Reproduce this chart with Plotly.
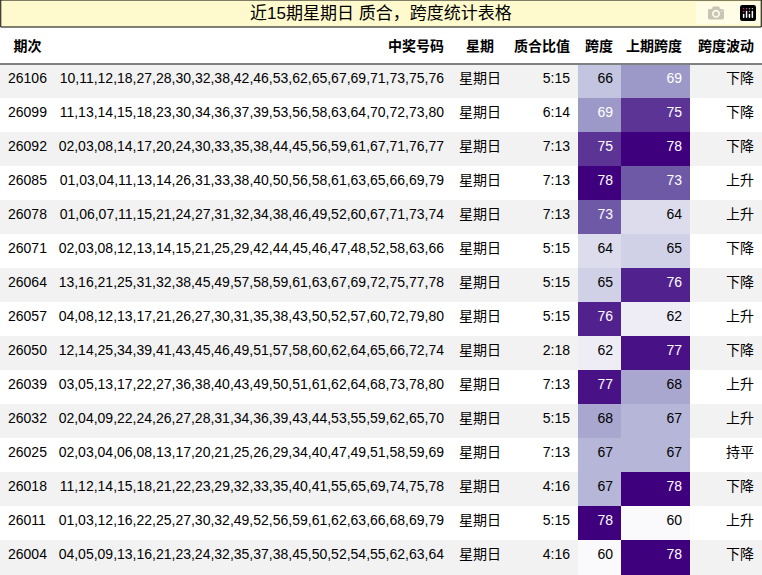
import plotly.graph_objects as go
from plotly.colors import sample_colorscale

periods = ["26106","26099","26092","26085","26078","26071","26064","26057","26050","26039","26032","26025","26018","26011","26004"]
numbers = [
"10,11,12,18,27,28,30,32,38,42,46,53,62,65,67,69,71,73,75,76",
"11,13,14,15,18,23,30,34,36,37,39,53,56,58,63,64,70,72,73,80",
"02,03,08,14,17,20,24,30,33,35,38,44,45,56,59,61,67,71,76,77",
"01,03,04,11,13,14,26,31,33,38,40,50,56,58,61,63,65,66,69,79",
"01,06,07,11,15,21,24,27,31,32,34,38,46,49,52,60,67,71,73,74",
"02,03,08,12,13,14,15,21,25,29,42,44,45,46,47,48,52,58,63,66",
"13,16,21,25,31,32,38,45,49,57,58,59,61,63,67,69,72,75,77,78",
"04,08,12,13,17,21,26,27,30,31,35,38,43,50,52,57,60,72,79,80",
"12,14,25,34,39,41,43,45,46,49,51,57,58,60,62,64,65,66,72,74",
"03,05,13,17,22,27,36,38,40,43,49,50,51,61,62,64,68,73,78,80",
"02,04,09,22,24,26,27,28,31,34,36,39,43,44,53,55,59,62,65,70",
"02,03,04,06,08,13,17,20,21,25,26,29,34,40,47,49,51,58,59,69",
"11,12,14,15,18,21,22,23,29,32,33,35,40,41,55,65,69,74,75,78",
"01,03,12,16,22,25,27,30,32,49,52,56,59,61,62,63,66,68,69,79",
"04,05,09,13,16,21,23,24,32,35,37,38,45,50,52,54,55,62,63,64",
]
weekday = ["星期日"] * 15
ratio = ["5:15","6:14","7:13","7:13","7:13","5:15","5:15","5:15","2:18","7:13","5:15","7:13","4:16","5:15","4:16"]
span = [66,69,75,78,73,64,65,76,62,77,68,67,67,78,60]
prev_span = [69,75,78,73,64,65,76,62,77,68,67,67,78,60,78]
trend = ["下降","下降","下降","上升","上升","下降","下降","上升","下降","上升","上升","持平","下降","上升","下降"]
headers = ["期次","中奖号码","星期","质合比值","跨度","上期跨度","跨度波动"]

lo, hi = 60, 78
def col(v):
    return sample_colorscale("Purples", [0.02 + 0.98 * (v - lo) / (hi - lo)])[0]
def tcol(v):
    return "white" if (v - lo) / (hi - lo) > 0.45 else "black"

FONT = "Liberation Sans, Noto Sans CJK SC"
stripe = ["#f2f2f2" if i % 2 == 0 else "white" for i in range(15)]
fills = [stripe, stripe, stripe, stripe, [col(v) for v in span], [col(v) for v in prev_span], stripe]
fcolors = ["black"] * 4 + [[tcol(v) for v in span], [tcol(v) for v in prev_span], "black"]

fig = go.Figure(go.Table(
    columnwidth=[55, 397, 56, 70, 43, 69, 72],
    domain=dict(x=[0, 1], y=[0, 1 - 30 / 575]),
    header=dict(values=[f"<b>{h}</b>" for h in headers],
                align=["center", "right", "center", "right", "right", "right", "right"],
                fill_color="white", line_color="white", height=34,
                font=dict(family=FONT, size=14, color="black")),
    cells=dict(values=[periods, numbers, weekday, ratio, span, prev_span, trend],
               align=["left", "right", "center", "right", "right", "right", "right"],
               fill_color=fills, line_color=fills, height=34,
               font=dict(family=FONT, size=14, color=fcolors)),
))
fig.add_shape(type="rect", xref="paper", yref="paper", x0=0.001, x1=0.999,
              y0=1 - 27 / 575, y1=1, fillcolor="#fffacd", line=dict(color="black", width=1))
fig.add_shape(type="line", xref="paper", yref="paper", x0=0, x1=1,
              y0=1 - 64 / 575, y1=1 - 64 / 575, line=dict(color="black", width=1))
fig.add_annotation(text="近15期星期日 质合，跨度统计表格", xref="paper", yref="paper",
                   x=0.5, y=1 - 13.5 / 575, showarrow=False, yanchor="middle",
                   font=dict(family=FONT, size=17, color="black"))
fig.update_layout(width=762, height=575, margin=dict(l=0, r=0, t=0, b=0),
                  paper_bgcolor="white")
fig.write_html("out.html",
               post_script="document.body.style.margin='0';document.body.style.overflow='hidden';")
